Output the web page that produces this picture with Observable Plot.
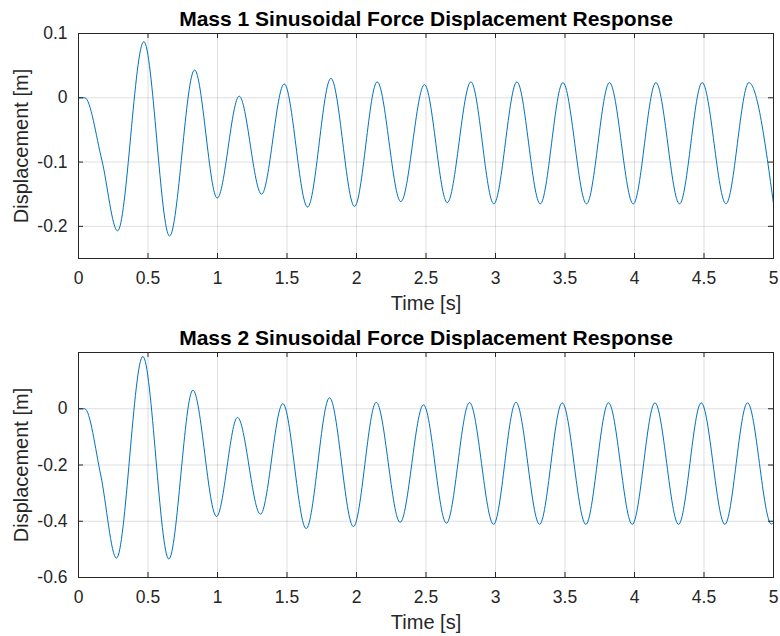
<!DOCTYPE html>
<html>
<head>
<meta charset="utf-8">
<script src="https://cdn.jsdelivr.net/npm/d3@7"></script>
<script src="https://cdn.jsdelivr.net/npm/@observablehq/plot@0.6"></script>
<style>
  html, body { margin: 0; padding: 0; background: #fff; }
  #chart { width: 780px; height: 636px; overflow: hidden; }
  #chart svg { display: block; }
</style>
</head>
<body>
<div id="chart"></div>
<script>
// ---- Data (extrema and a few shape points) ----
const mass1Time = [0, 0.045, 0.168, 0.281, 0.470, 0.655, 0.835, 0.998, 1.156, 1.317, 1.480, 1.648, 1.816, 1.986, 2.149, 2.319, 2.489, 2.653, 2.823, 2.988, 3.154, 3.322, 3.485, 3.655, 3.820, 3.991, 4.154, 4.324, 4.487, 4.658, 4.823, 5.0];
const mass1Disp = [0, 0, -0.097, -0.207, 0.0873, -0.215, 0.0432, -0.156, 0.0025, -0.150, 0.0216, -0.170, 0.0303, -0.169, 0.0247, -0.1616, 0.0205, -0.163, 0.0247, -0.165, 0.0247, -0.165, 0.0236, -0.165, 0.0236, -0.165, 0.0236, -0.165, 0.0236, -0.165, 0.0236, -0.165];

const mass2Time = [0, 0.045, 0.160, 0.273, 0.463, 0.650, 0.823, 0.993, 1.144, 1.309, 1.470, 1.638, 1.806, 1.978, 2.142, 2.314, 2.482, 2.647, 2.813, 2.986, 3.147, 3.317, 3.480, 3.650, 3.813, 3.984, 4.147, 4.317, 4.480, 4.650, 4.813, 4.985, 5.0];
const mass2Disp = [0, 0, -0.236, -0.531, 0.186, -0.534, 0.066, -0.383, -0.031, -0.375, 0.018, -0.426, 0.039, -0.419, 0.023, -0.404, 0.014, -0.407, 0.022, -0.411, 0.023, -0.411, 0.021, -0.411, 0.021, -0.411, 0.021, -0.411, 0.021, -0.411, 0.021, -0.410, -0.405];

const xTicks = [0, 0.5, 1, 1.5, 2, 2.5, 3, 3.5, 4, 4.5, 5];
const xTickLabels = ["0", "0.5", "1", "1.5", "2", "2.5", "3", "3.5", "4", "4.5", "5"];
const yTicks1 = [-0.2, -0.1, 0, 0.1];
const yTickLabels1 = ["-0.2", "-0.1", "0", "0.1"];
const yTicks2 = [-0.6, -0.4, -0.2, 0];
const yTickLabels2 = ["-0.6", "-0.4", "-0.2", "0"];

const titles = ["Mass 1 Sinusoidal Force Displacement Response", "Mass 2 Sinusoidal Force Displacement Response"];
const xLabel = "Time [s]";
const yLabel = "Displacement [m]";

// ---- Drawing ----
const axisColor = "#262626";
const lineColor = "#0072BD";
const font = "'Liberation Sans', Arial, Helvetica, sans-serif";

function panel({time, disp, yDomain, yTicks, yTickLabels, title, height, marginTop, marginBottom}) {
  const data = time.map((t, i) => ({t, v: disp[i]}));
  const plotH = height - marginTop - marginBottom;
  const plotW = 780 - 78 - 7;
  const tickLen = 5;
  return Plot.plot({
    width: 780,
    height,
    marginLeft: 78,
    marginRight: 7,
    marginTop,
    marginBottom,
    style: {fontFamily: font, background: "#fff", color: axisColor, overflow: "visible"},
    x: {domain: [0, 5], axis: null},
    y: {domain: yDomain, axis: null},
    marks: [
      Plot.ruleX(xTicks, {x: d => d, stroke: axisColor, strokeOpacity: 0.15}),
      Plot.ruleY(yTicks, {y: d => d, stroke: axisColor, strokeOpacity: 0.15}),
      Plot.line(data, {x: "t", y: "v", curve: "monotone-x", stroke: lineColor, strokeWidth: 1}),
      // inward ticks on all four sides
      Plot.tickX(xTicks, {x: d => d, insetTop: plotH - tickLen, stroke: axisColor}),
      Plot.tickX(xTicks, {x: d => d, insetBottom: plotH - tickLen, stroke: axisColor}),
      Plot.tickY(yTicks, {y: d => d, insetRight: plotW - tickLen, stroke: axisColor}),
      Plot.tickY(yTicks, {y: d => d, insetLeft: plotW - tickLen, stroke: axisColor}),
      Plot.frame({stroke: axisColor, strokeWidth: 1}),
      // tick labels
      Plot.text(xTicks, {x: d => d, frameAnchor: "bottom", lineAnchor: "middle", dy: 20, text: (d, i) => xTickLabels[i], fontSize: 17.5, fill: axisColor}),
      Plot.text(yTicks, {y: d => d, frameAnchor: "left", lineAnchor: "middle", dx: -11, textAnchor: "end", text: (d, i) => yTickLabels[i], fontSize: 17.5, fill: axisColor}),
      // axis labels and title
      Plot.text([xLabel], {frameAnchor: "bottom", lineAnchor: "middle", dy: 45, text: d => d, fontSize: 20, fill: axisColor}),
      Plot.text([yLabel], {frameAnchor: "left", lineAnchor: "middle", textAnchor: "middle", dx: -56.5, rotate: -90, text: d => d, fontSize: 20, fill: axisColor}),
      Plot.text([title], {frameAnchor: "top", lineAnchor: "middle", dy: -14.5, text: d => d, fontSize: 21, fontWeight: "bold", fill: "#000"})
    ]
  });
}

const chart = document.getElementById("chart");
chart.appendChild(panel({
  time: mass1Time, disp: mass1Disp, yDomain: [-0.25, 0.1], yTicks: yTicks1, yTickLabels: yTickLabels1,
  title: titles[0], height: 318, marginTop: 33, marginBottom: 60
}));
chart.appendChild(panel({
  time: mass2Time, disp: mass2Disp, yDomain: [-0.6, 0.2], yTicks: yTicks2, yTickLabels: yTickLabels2,
  title: titles[1], height: 318, marginTop: 34, marginBottom: 59
}));
</script>
</body>
</html>
